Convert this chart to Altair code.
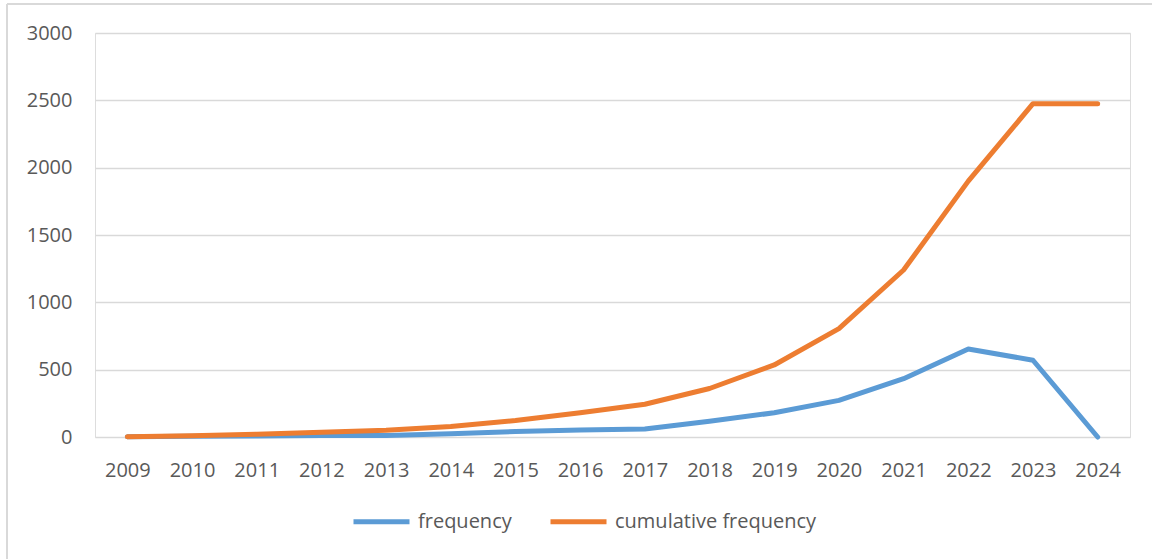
import altair as alt
import pandas as pd

# Publications per year and running total
years = ["2009", "2010", "2011", "2012", "2013", "2014", "2015", "2016",
         "2017", "2018", "2019", "2020", "2021", "2022", "2023", "2024"]
frequency = [2, 6, 8, 12, 12, 25, 40, 52, 60, 117, 180, 272, 433, 653, 570, 0]
cumulative = [2, 10, 20, 35, 50, 78, 122, 180, 243, 360, 535, 805, 1240, 1900, 2475, 2475]

series_names = ["frequency", "cumulative frequency"]
series_colors = ["#5b9bd5", "#ed7d31"]
y_ticks = [0, 500, 1000, 1500, 2000, 2500, 3000]

rows = []
for name, values in zip(series_names, [frequency, cumulative]):
    for yr, v in zip(years, values):
        rows.append({"year": yr, "series": name, "value": v})
df = pd.DataFrame(rows)

FONT = "Open Sans"
LABEL = "#595959"
GRID = "#d9d9d9"

W, H = 1035, 404
PAD = {"left": 95, "top": 33, "right": 22, "bottom": 122}

color = alt.Color(
    "series:N",
    scale=alt.Scale(domain=series_names, range=series_colors),
    legend=alt.Legend(
        title=None,
        orient="none",
        direction="horizontal",
        legendX=256,
        legendY=458,
        symbolType="stroke",
        symbolSize=3136,
        symbolStrokeWidth=5,
        labelFont=FONT,
        labelFontSize=20,
        labelColor=LABEL,
        labelOffset=6,
        labelLimit=0,
        columnPadding=28,
        padding=0,
    ),
)

x = alt.X(
    "year:O",
    sort=years,
    scale=alt.Scale(type="point", padding=0.5),
    axis=alt.Axis(
        title=None, labelAngle=0, ticks=False, domain=False, grid=False,
        labelFont=FONT, labelFontSize=20, labelColor=LABEL, labelPadding=23,
    ),
)
y = alt.Y(
    "value:Q",
    scale=alt.Scale(domain=[0, 3000], nice=False),
    axis=alt.Axis(
        title=None, values=y_ticks, format="d", ticks=False, domain=False,
        grid=True, gridColor=GRID, gridWidth=1.3,
        labelFont=FONT, labelFontSize=20, labelColor=LABEL, labelPadding=23,
    ),
)

base = alt.Chart(df).mark_line(strokeWidth=5, strokeCap="round", strokeJoin="round")

freq_line = base.transform_filter(alt.datum.series == "frequency").encode(x=x, y=y, color=color)
cum_line = base.transform_filter(alt.datum.series == "cumulative frequency").encode(x=x, y=y, color=color)

# Outer frame of the chart (top and left edges)
frame_df = pd.DataFrame({"k": [0]})
frame_top = alt.Chart(frame_df).mark_rule(color=GRID, strokeWidth=2).encode(
    x=alt.value(-88), x2=alt.value(1057), y=alt.value(-29)
)
frame_left = alt.Chart(frame_df).mark_rule(color=GRID, strokeWidth=2).encode(
    x=alt.value(-88), y=alt.value(-29), y2=alt.value(526)
)

chart = (
    alt.layer(frame_top, frame_left, freq_line, cum_line)
    .properties(width=W, height=H, padding=PAD, autosize=alt.AutoSizeParams(type="none"))
    .configure_view(stroke=None)
    .configure(background="white")
)

chart.save("out.html", embed_options={"renderer": "svg", "actions": False})
